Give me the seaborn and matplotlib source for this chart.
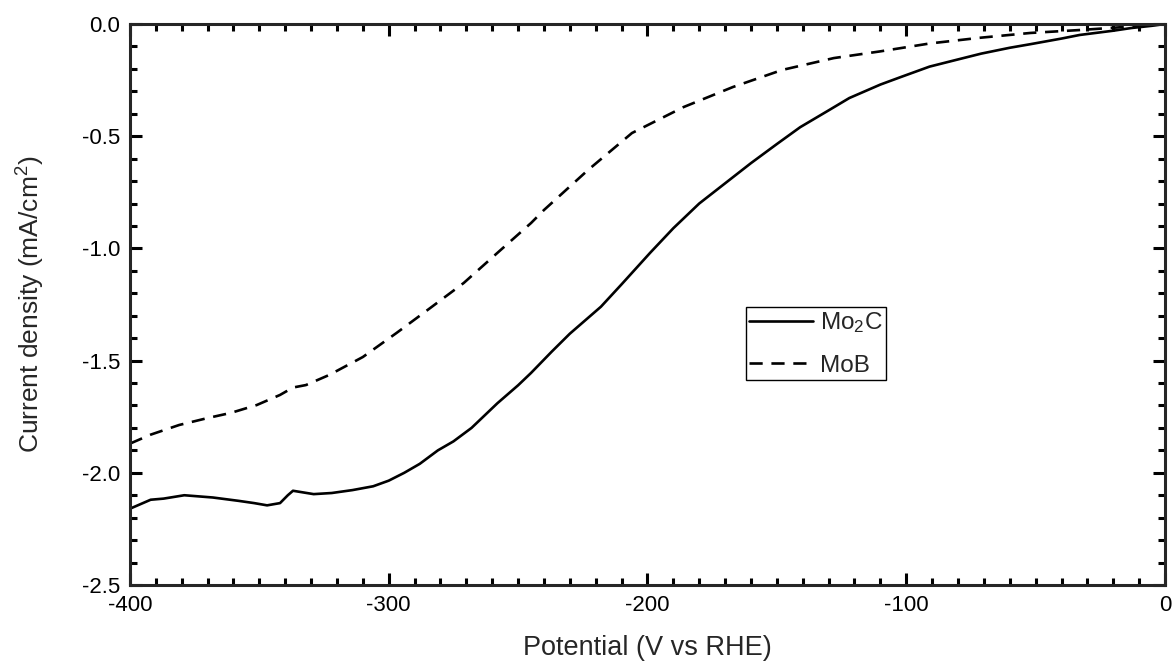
import numpy as np
import pandas as pd
import seaborn as sns
import matplotlib.pyplot as plt
from matplotlib.ticker import MultipleLocator

# Mo2C (solid)
mo2c_v = [-400, -392, -387, -379, -368, -358, -352, -347, -342, -339, -337, -329, -322, -314,
          -306, -300, -294, -288, -281, -275, -268, -258, -250, -245, -237, -230, -218, -210,
          -199, -190, -180, -170, -160, -150, -141, -130, -122, -110, -102, -91, -80, -71,
          -60, -52, -40, -33, -20, -13, -5, 0]
mo2c_j = [-2.16, -2.12, -2.115, -2.10, -2.11, -2.125, -2.135, -2.145, -2.135, -2.10, -2.08,
          -2.095, -2.09, -2.077, -2.06, -2.035, -2.00, -1.96, -1.90, -1.86, -1.80, -1.69,
          -1.61, -1.555, -1.46, -1.38, -1.26, -1.16, -1.02, -0.91, -0.80, -0.71, -0.62,
          -0.535, -0.46, -0.385, -0.33, -0.27, -0.236, -0.19, -0.158, -0.132, -0.106, -0.09,
          -0.065, -0.049, -0.03, -0.018, -0.008, 0.0]

# MoB (dashed)
mob_v = [-400, -392, -381, -370, -361, -351, -342, -337, -332, -323, -310, -297, -284, -271,
         -258, -245, -240, -223, -206, -186, -167, -148, -128, -110, -91, -72, -52, -33, -15, 0]
mob_j = [-1.87, -1.83, -1.787, -1.756, -1.733, -1.698, -1.653, -1.62, -1.609, -1.564, -1.484,
         -1.377, -1.266, -1.154, -1.02, -0.887, -0.829, -0.651, -0.486, -0.37, -0.281, -0.205,
         -0.152, -0.122, -0.087, -0.062, -0.04, -0.027, -0.013, 0.0]

labels = ["Mo$_2$C", "MoB"]

df = pd.concat([
    pd.DataFrame({"potential": mo2c_v, "current": mo2c_j, "sample": labels[0]}),
    pd.DataFrame({"potential": mob_v, "current": mob_j, "sample": labels[1]}),
])

sns.set_style("ticks")
plt.rcParams['font.family'] = ['Liberation Sans', 'DejaVu Sans']
plt.rcParams['axes.unicode_minus'] = False
plt.rcParams['mathtext.fontset'] = 'custom'
plt.rcParams['mathtext.rm'] = 'Liberation Sans'
plt.rcParams['mathtext.default'] = 'regular'

fig = plt.figure(figsize=(11.75, 6.66), dpi=100)
ax = fig.add_axes([0.1106, 0.1216, 0.8809, 0.8424])

sns.lineplot(data=df, x="potential", y="current", style="sample",
             dashes={labels[0]: "", labels[1]: (5, 3.3)}, color="black",
             linewidth=1.9, sort=False, estimator=None, ax=ax)

ax.set_xlim(-400, 0)
ax.set_ylim(-2.5, 0)
ax.xaxis.set_major_locator(MultipleLocator(100))
ax.xaxis.set_minor_locator(MultipleLocator(10))
ax.yaxis.set_major_locator(MultipleLocator(0.5))
ax.yaxis.set_minor_locator(MultipleLocator(0.1))
ax.yaxis.set_major_formatter(lambda v, p: f"{v:.1f}")

for s in ax.spines.values():
    s.set_visible(True)
    s.set_linewidth(2.2)
ax.tick_params(which="both", direction="in", top=True, right=True, labelsize=16,
               colors="black", pad=7)
ax.tick_params(which="major", length=8.5, width=2.2)
ax.tick_params(which="minor", length=5, width=2.2)

ax.set_xlabel("Potential (V vs RHE)", fontsize=19.5, labelpad=14)
ax.set_ylabel("Current density (mA/cm$^2$)", fontsize=19, labelpad=25)

handles, _ = ax.get_legend_handles_labels()
leg = ax.legend(handles=handles, labels=labels, loc="upper left", bbox_to_anchor=(0.595, 0.496),
                fontsize=17.5, handlelength=2.6, handletextpad=0.3, borderpad=0.15,
                labelspacing=0.8, fancybox=False, framealpha=1, edgecolor="black",
                borderaxespad=0)
leg.get_frame().set_linewidth(1)

fig.savefig("out.png", dpi=100)
